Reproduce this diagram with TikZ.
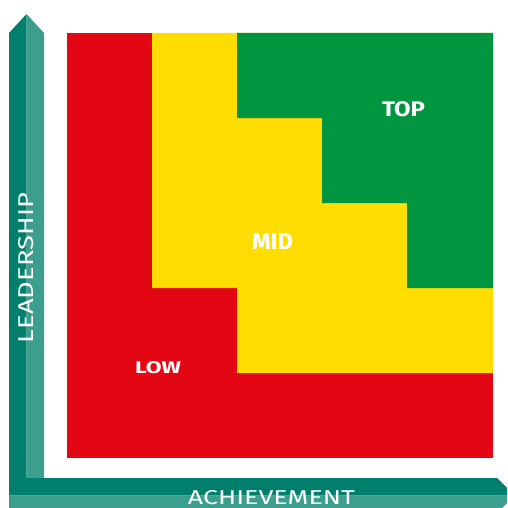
\documentclass[tikz,border=0pt]{standalone}
\usepackage{fontspec}
\setmainfont{Fira Sans}
\newfontfamily\axisfont{Fira Sans}
\definecolor{zonered}{HTML}{E30613}
\definecolor{zoneyellow}{HTML}{FFDD00}
\definecolor{zonegreen}{HTML}{009640}
\definecolor{axisdark}{HTML}{00806C}
\definecolor{axislight}{HTML}{3C9E8C}
\tikzset{
  zonelabel/.style={text=white, inner sep=0pt, font=\bfseries},
  axislabel/.style={text=white, inner sep=0pt, font=\axisfont},
}
\begin{document}
\begin{tikzpicture}[x=1pt, y=-1pt]
  \useasboundingbox (0,0) rectangle (507,508);
  \begin{scope}
    \clip (0,0) rectangle (507,508);
    % vertical axis arrow (two tones)
    \fill[axisdark]  (9,478) -- (9,33) -- (26.5,14) -- (26.5,478) -- cycle;
    \fill[axislight] (26.5,478) -- (26.5,14) -- (44,33) -- (44,478) -- cycle;
    % horizontal axis arrow (two tones)
    \fill[axisdark]  (9,478) -- (497,478) -- (514.5,495.5) -- (9,495.5) -- cycle;
    \fill[axislight] (9,495.5) -- (514.5,495.5) -- (497,513) -- (9,513) -- cycle;
  \end{scope}
  % red zone: whole field
  \fill[zonered] (67,33) rectangle (493,458);
  % yellow staircase
  \fill[zoneyellow] (152,33) -- (493,33) -- (493,373) -- (237,373)
    -- (237,288) -- (152,288) -- cycle;
  % green staircase
  \fill[zonegreen] (237,33) -- (493,33) -- (493,288) -- (407,288)
    -- (407,203) -- (322,203) -- (322,118) -- (237,118) -- cycle;
  % zone labels
  \node[zonelabel] (top) at (403.5,109.5) {\resizebox{43pt}{15pt}{TOP}};
  \node[zonelabel] (mid) at (272.5,241.5) {\resizebox{41pt}{16pt}{MID}};
  \node[zonelabel] (low) at (158,367.5) {\resizebox{46pt}{12pt}{LOW}};
  % axis labels
  \node[axislabel] (ach) at (271.5,497.5) {\resizebox{167pt}{14pt}{ACHIEVEMENT}};
  \node[axislabel, rotate=90] (lead) at (26,268) {\resizebox{150pt}{15pt}{LEADERSHIP}};
\end{tikzpicture}
\end{document}
